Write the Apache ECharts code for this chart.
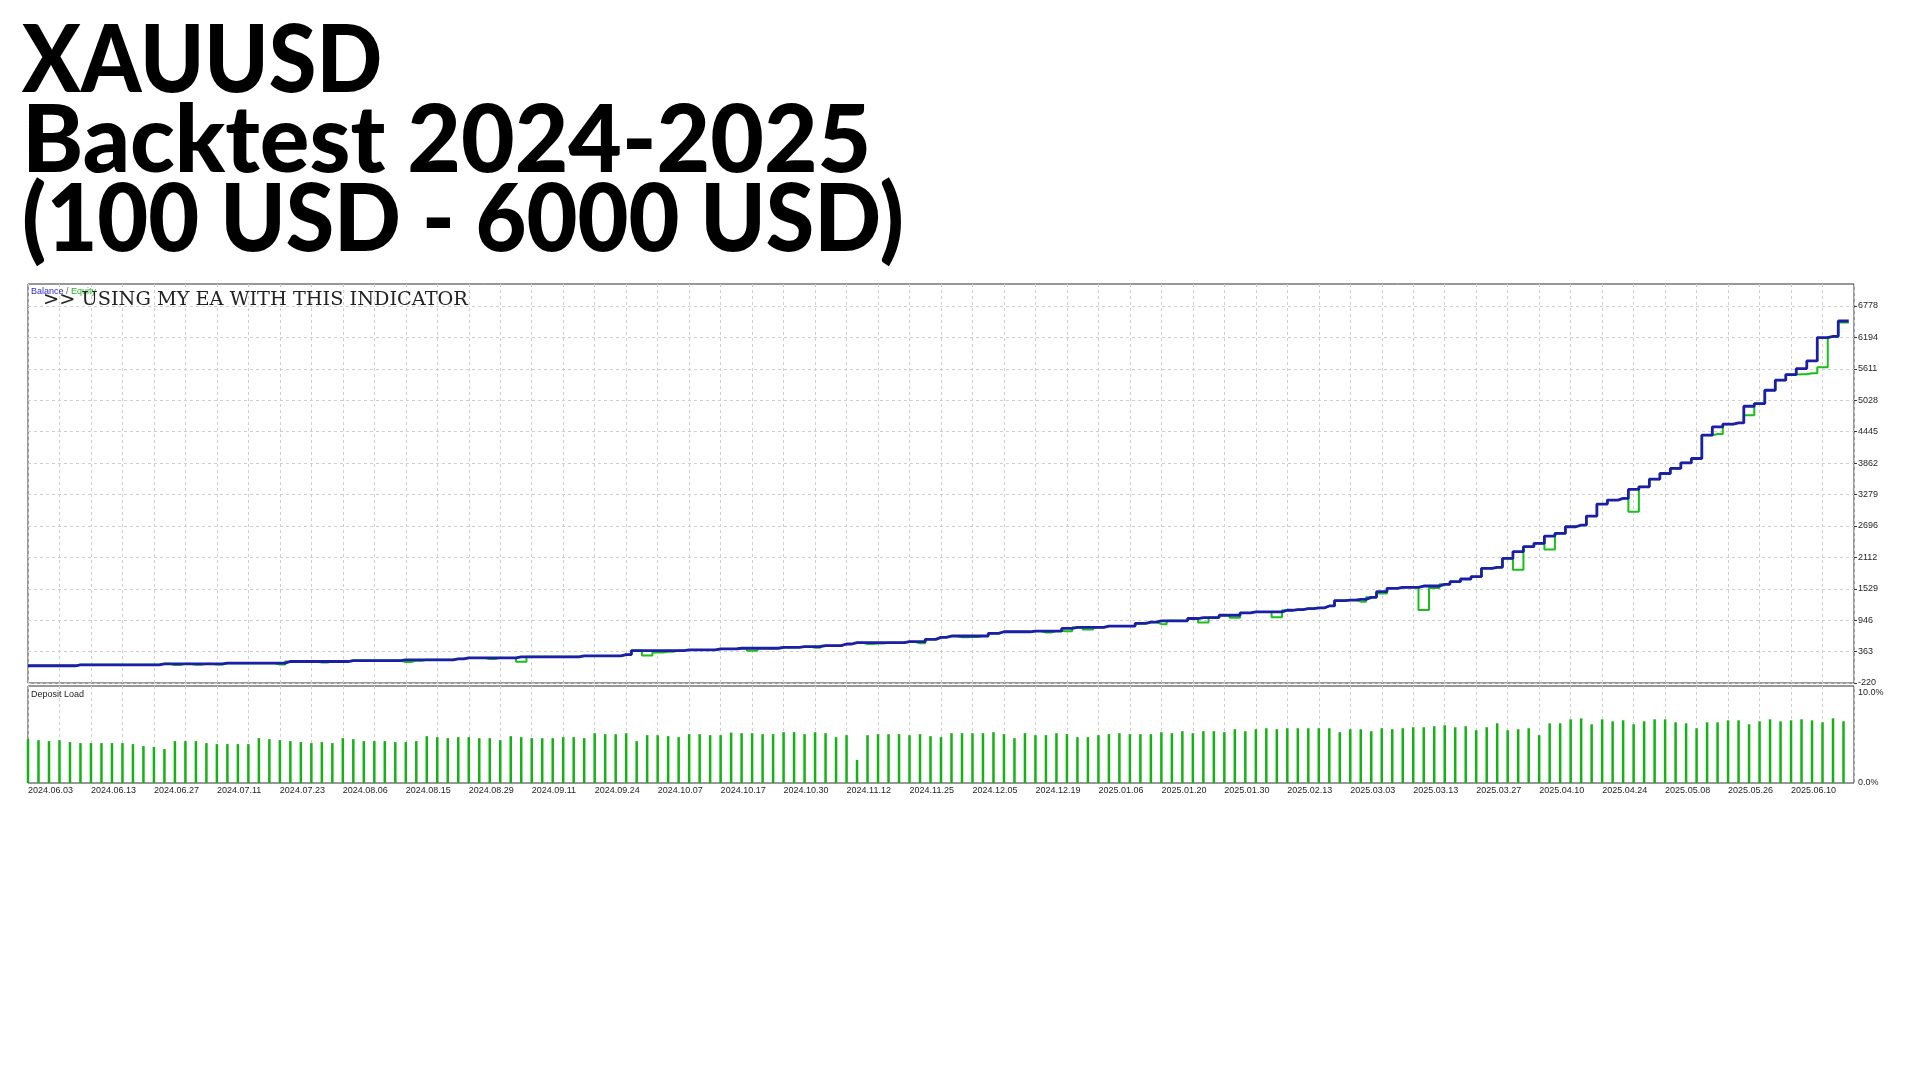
<!DOCTYPE html>
<html>
<head>
<meta charset="utf-8">
<script src="https://cdn.jsdelivr.net/npm/echarts@6/dist/echarts.min.js"></script>
<style>html,body{margin:0;padding:0;background:#fff}#c{width:1920px;height:1080px}</style>
</head>
<body>
<div id="c"></div>
<script>
const titleLines = ['XAUUSD', 'Backtest 2024-2025', '(100 USD - 6000 USD)'];
const overlayText = '>> USING MY EA WITH THIS INDICATOR';
const legendNames = ['Balance', 'Equity'];
const loadTitle = 'Deposit Load';

const dateLabels = ['2024.06.03','2024.06.13','2024.06.27','2024.07.11','2024.07.23','2024.08.06','2024.08.15','2024.08.29','2024.09.11','2024.09.24','2024.10.07','2024.10.17','2024.10.30','2024.11.12','2024.11.25','2024.12.05','2024.12.19','2025.01.06','2025.01.20','2025.01.30','2025.02.13','2025.03.03','2025.03.13','2025.03.27','2025.04.10','2025.04.24','2025.05.08','2025.05.26','2025.06.10'];
const yTickValues = [-220, 363, 946, 1529, 2112, 2696, 3279, 3862, 4445, 5028, 5611, 6194, 6778];
const loadTickValues = [0, 10];

const balance = [100,100,100,100,100,
117,117,117,117,117,117,117,117,
135,135,135,135,135,135,
148,148,148,148,148,148,
179,179,179,179,179,179,
197,197,197,197,197,
210,210,210,210,210,
228,
246,246,246,246,246,
265,265,265,265,265,265,
283,283,283,283,
308,
381,381,381,381,381,
394,394,394,
412,412,
425,425,425,425,
443,443,
455,455,
473,473,
504,
529,529,529,529,529,
547,547,
590,
627,
652,652,652,652,
701,
731,731,731,
743,743,743,
793,
811,811,811,
836,836,836,
885,
909,
934,934,934,
977,
995,995,
1038,1038,
1081,
1100,1100,1100,
1130,1142,1161,1173,1210,1309,1320,1333,1370,1475,1537,
1556,1556,1580,1580,1611,1661,1710,1753,1908,1927,
2093,2217,2310,2371,2507,2557,2680,2711,2878,3101,
3175,3206,3373,3422,3564,3669,3762,3867,3947,4380,
4535,4584,4608,4917,4967,5214,5400,5505,5616,5758,
6191,6215,6499,null];

const equity = [100,100,100,100,100,
117,117,117,117,117,117,117,117,
135,112,135,118,135,122,
148,148,148,148,148,122,
179,179,179,160,179,179,
197,197,197,197,197,
168,195,210,210,210,
228,
246,246,225,246,246,
175,265,265,265,265,265,
283,283,283,283,
308,
381,290,345,360,381,
394,394,394,
412,412,
425,380,425,425,
443,443,
455,435,
473,473,
504,
529,505,512,529,529,
547,518,
590,
627,
652,628,632,652,
701,
731,731,731,
743,718,743,
742,
811,772,811,
836,836,836,
885,
909,
872,934,934,
977,
905,995,
1038,990,
1081,
1100,1100,1000,
1130,1142,1161,1173,1210,1309,1320,1290,1370,1440,1537,
1556,1556,1136,1545,1611,1661,1710,1753,1908,1927,
2093,1880,2310,2371,2260,2557,2680,2711,2878,3101,
3175,3206,2960,3422,3564,3669,3762,3867,3947,4380,
4400,4584,4608,4750,4967,5214,5400,5505,5510,5530,
5640,6200,6470,null];

const depositLoad = [4.87,4.76,4.65,4.76,4.54,4.43,4.43,4.43,4.43,4.43,
4.32,4.10,3.99,3.77,4.65,4.65,4.65,4.43,4.32,4.32,
4.32,4.32,4.98,4.87,4.76,4.65,4.54,4.43,4.54,4.43,
4.98,4.87,4.65,4.65,4.65,4.54,4.54,4.65,5.20,5.09,
4.98,5.09,5.09,4.98,4.98,4.76,5.20,5.09,4.98,4.98,
4.98,5.09,5.09,4.98,5.53,5.42,5.42,5.53,4.65,5.31,
5.31,5.20,5.09,5.42,5.42,5.31,5.31,5.60,5.53,5.53,
5.42,5.42,5.64,5.64,5.42,5.64,5.53,5.09,5.31,2.56,
5.31,5.42,5.42,5.42,5.31,5.42,5.20,5.09,5.53,5.53,
5.53,5.53,5.64,5.42,4.98,5.53,5.31,5.31,5.53,5.42,
5.09,5.09,5.31,5.42,5.53,5.42,5.42,5.42,5.64,5.53,
5.75,5.53,5.75,5.75,5.64,5.97,5.75,5.97,6.08,5.97,
6.08,6.08,6.08,6.08,6.08,5.64,5.97,5.97,5.75,6.08,
5.97,6.08,6.19,6.19,6.30,6.41,6.19,6.30,5.86,6.19,
6.63,5.86,5.97,6.08,5.31,6.63,6.63,7.07,7.18,6.52,
7.07,6.85,6.96,6.52,6.85,7.07,7.07,6.74,6.63,6.08,
6.74,6.74,6.96,6.96,6.52,6.85,7.07,6.85,6.96,7.07,
6.96,6.74,7.18,6.85,null];

const deals = balance.map((_, i) => String(i + 1));

const gridColor = '#cfcfcf';
const axisFont = 'Liberation Sans';
const titleFont = '900 93px Lato, "DejaVu Sans", sans-serif';

const chart = echarts.init(document.getElementById('c'), null, {renderer: 'canvas'});
chart.setOption({
  animation: false,
  backgroundColor: '#ffffff',
  title: [
    {
      left: 31, top: 287, padding: 0,
      text: '{b|' + legendNames[0] + '} {s|/} {e|' + legendNames[1] + '}',
      textStyle: {
        fontSize: 9, fontFamily: axisFont, fontWeight: 'normal',
        rich: {
          b: {color: '#2b2bd6', fontSize: 9, fontFamily: axisFont},
          s: {color: '#666', fontSize: 9, fontFamily: axisFont},
          e: {color: '#22b322', fontSize: 9, fontFamily: axisFont}
        }
      }
    },
    {
      left: 31, top: 690, padding: 0, text: loadTitle,
      textStyle: {fontSize: 9, fontFamily: axisFont, fontWeight: 'normal', color: '#222'}
    }
  ],
  graphic: [
    {type: 'text', z: 100, x: 22, y: 62, scaleX: 0.93, style: {text: titleLines[0], x: 0, y: 0, verticalAlign: 'middle', align: 'left', font: titleFont, fill: '#000'}},
    {type: 'text', z: 100, x: 22, y: 142, scaleX: 0.995, style: {text: titleLines[1], x: 0, y: 0, verticalAlign: 'middle', align: 'left', font: titleFont, fill: '#000'}},
    {type: 'text', z: 100, x: 22, y: 221, scaleX: 0.945, style: {text: titleLines[2], x: 0, y: 0, verticalAlign: 'middle', align: 'left', font: titleFont, fill: '#000'}},
    {type: 'text', z: 100, style: {text: overlayText, x: 43, y: 300, verticalAlign: 'middle', align: 'left', font: '19.3px "DejaVu Serif", serif', fill: '#222'}}
  ],
  grid: [
    {left: 28, top: 284, width: 1826, height: 399, show: true, borderColor: '#333', borderWidth: 1, backgroundColor: '#fff', containLabel: false},
    {left: 28, top: 686, width: 1826, height: 97, show: true, borderColor: '#333', borderWidth: 1, backgroundColor: '#fff', containLabel: false}
  ],
  xAxis: [
    {
      type: 'category', gridIndex: 0, data: deals, boundaryGap: false,
      axisLine: {show: false}, axisTick: {show: false}, axisLabel: {show: false},
      splitLine: {show: true, interval: (i) => i % 3 === 0, lineStyle: {color: gridColor, type: [3, 3], width: 1}}
    },
    {
      type: 'category', gridIndex: 1, data: deals, boundaryGap: false,
      axisLine: {show: false}, axisTick: {show: false},
      axisLabel: {
        show: true, interval: (i) => i % 6 === 0, align: 'left', margin: 3,
        fontSize: 9, fontFamily: axisFont, color: '#1e1e1e',
        formatter: (v, idx) => dateLabels[idx / 6] || ''
      },
      splitLine: {show: true, interval: (i) => i % 3 === 0, lineStyle: {color: gridColor, type: [3, 3], width: 1}}
    }
  ],
  yAxis: [
    {
      type: 'value', gridIndex: 0, position: 'right', min: -220, max: 7186,
      axisLine: {show: false},
      axisTick: {show: true, length: 3, customValues: yTickValues, lineStyle: {color: '#333'}},
      axisLabel: {show: true, customValues: yTickValues, margin: 4, fontSize: 9, fontFamily: axisFont, color: '#1e1e1e', formatter: (v) => String(v)},
      splitLine: {show: true, lineStyle: {color: gridColor, type: [3, 3], width: 1}}
    },
    {
      type: 'value', gridIndex: 1, position: 'right', min: 0, max: 10.77,
      axisLine: {show: false},
      axisTick: {show: false, customValues: loadTickValues},
      axisLabel: {show: true, customValues: loadTickValues, margin: 4, fontSize: 9, fontFamily: axisFont, color: '#1e1e1e', formatter: (v) => v.toFixed(1) + '%'},
      splitLine: {show: false}
    }
  ],
  series: [
    {
      name: 'Equity', type: 'line', step: 'middle', xAxisIndex: 0, yAxisIndex: 0, data: equity,
      symbol: 'none', lineStyle: {color: '#19c019', width: 2}, itemStyle: {color: '#19c019'}, z: 2
    },
    {
      name: 'Balance', type: 'line', step: 'middle', xAxisIndex: 0, yAxisIndex: 0, data: balance,
      symbol: 'none', lineStyle: {color: '#1a1fa6', width: 2.8}, itemStyle: {color: '#1a1fa6'}, z: 3
    },
    {
      name: 'Deposit Load', type: 'bar', xAxisIndex: 1, yAxisIndex: 1, data: depositLoad,
      barWidth: 2.5, itemStyle: {color: '#12b312'}
    }
  ]
});
</script>
</body>
</html>
